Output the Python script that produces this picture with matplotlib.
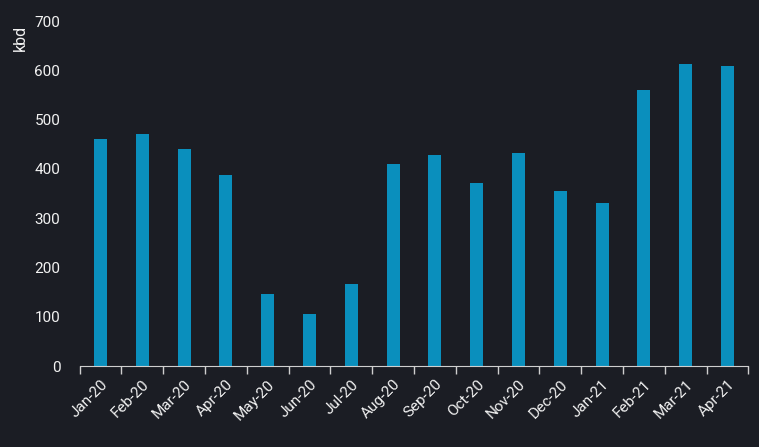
import matplotlib
matplotlib.use("Agg")
import matplotlib.pyplot as plt
import numpy as np

months = ["Jan-20", "Feb-20", "Mar-20", "Apr-20", "May-20", "Jun-20", "Jul-20", "Aug-20",
          "Sep-20", "Oct-20", "Nov-20", "Dec-20", "Jan-21", "Feb-21", "Mar-21", "Apr-21"]
values = [460, 470, 440, 388, 146, 105, 166, 410, 428, 371, 432, 355, 331, 560, 613, 609]
yticks = [0, 100, 200, 300, 400, 500, 600, 700]

plt.rcParams['font.family'] = ['Roboto', 'DejaVu Sans']
bg = "#1b1d24"
fg = "#f2f2f2"
fig = plt.figure(figsize=(7.59, 4.47), dpi=100, facecolor=bg)
ax = fig.add_axes([0.105, 0.181, 0.881, 0.772], facecolor=bg)

x = np.arange(len(months))
ax.bar(x, values, width=0.31, color="#0a8fbd")
ax.set_xlim(-0.5, len(months) - 0.5)
ax.set_ylim(0, 700)
ax.set_yticks(yticks)
ax.set_yticklabels([str(v) for v in yticks], color=fg, fontsize=11)
ax.tick_params(axis='y', length=0, pad=14)
ax.set_xticks(np.arange(-0.5, len(months), 1.0))
ax.set_xticklabels([])
ax.tick_params(axis='x', which='major', length=6, color="#cfcfcf", width=1)
ax.set_xticks(x, minor=True)
ax.set_xticklabels(months, minor=True, rotation=45, ha='right', rotation_mode='anchor',
                   color=fg, fontsize=11)
ax.tick_params(axis='x', which='minor', length=0, pad=8)
for s in ['top', 'right', 'left']:
    ax.spines[s].set_visible(False)
ax.spines['bottom'].set_color("#cfcfcf")
ax.set_ylabel("kbd", color=fg, fontsize=11.5)
ax.yaxis.set_label_coords(-0.078, 0.95)
fig.savefig("out.png", dpi=100, facecolor=bg)
